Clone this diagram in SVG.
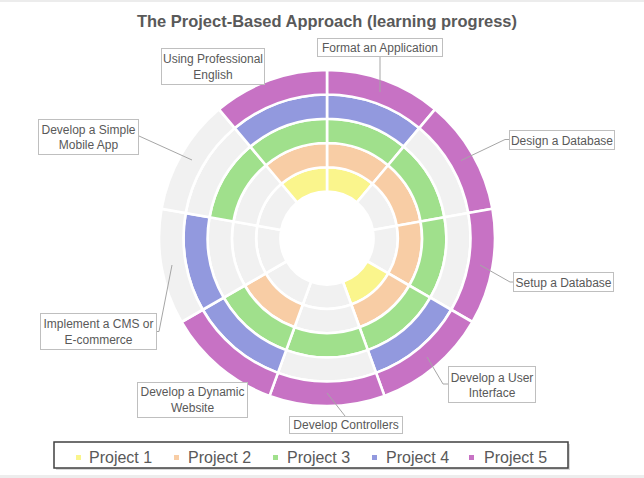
<svg xmlns="http://www.w3.org/2000/svg" width="644" height="478" viewBox="0 0 644 478">
<style>
.s{stroke:#fff;stroke-width:2.6;stroke-linejoin:miter}
.p1{fill:#FAF58C}.p2{fill:#F8CDA5}.p3{fill:#A0E08C}.p4{fill:#9299DE}.p5{fill:#C772C4}.e{fill:#F1F1F1}
.box{fill:#fff;stroke:#BFBFBF;stroke-width:1}
.lbl{font-family:"Liberation Sans",Arial,sans-serif;font-size:12px;fill:#595959;text-anchor:middle}
.lead{fill:none;stroke:#A6A6A6;stroke-width:1}
.leg{font-family:"Liberation Sans",Arial,sans-serif;font-size:16px;fill:#595959}
</style>
<rect x="0" y="0" width="644" height="478" fill="#fff"/>
<line x1="0" y1="1" x2="644" y2="1" stroke="#E6E6E6" stroke-width="1.5"/>
<rect x="0" y="475" width="644" height="3" fill="#EDEDED"/>
<text x="327" y="27" font-family="'Liberation Sans',Arial,sans-serif" font-size="17" font-weight="bold" fill="#595959" text-anchor="middle" textLength="380" lengthAdjust="spacingAndGlyphs">The Project-Based Approach (learning progress)</text>

<g id="seg-format-application" class="s">
<path class="p1" d="M327,167.2 A70.8,70.8 0 0 1 372.51,183.76 L356.89,202.38 A46.5,46.5 0 0 0 327,191.5Z"/>
<path class="p2" d="M327,143 A95,95 0 0 1 388.06,165.23 L372.51,183.76 A70.8,70.8 0 0 0 327,167.2Z"/>
<path class="p3" d="M327,118.7 A119.3,119.3 0 0 1 403.68,146.61 L388.06,165.23 A95,95 0 0 0 327,143Z"/>
<path class="p4" d="M327,94.5 A143.5,143.5 0 0 1 419.24,128.07 L403.68,146.61 A119.3,119.3 0 0 0 327,118.7Z"/>
<path class="p5" d="M327,70 A168,168 0 0 1 434.99,109.3 L419.24,128.07 A143.5,143.5 0 0 0 327,94.5Z"/>
</g>
<g id="seg-design-database" class="s">
<path class="e" d="M372.51,183.76 A70.8,70.8 0 0 1 396.72,225.71 L372.79,229.93 A46.5,46.5 0 0 0 356.89,202.38Z"/>
<path class="p2" d="M388.06,165.23 A95,95 0 0 1 420.56,221.5 L396.72,225.71 A70.8,70.8 0 0 0 372.51,183.76Z"/>
<path class="p3" d="M403.68,146.61 A119.3,119.3 0 0 1 444.49,217.28 L420.56,221.5 A95,95 0 0 0 388.06,165.23Z"/>
<path class="e" d="M419.24,128.07 A143.5,143.5 0 0 1 468.32,213.08 L444.49,217.28 A119.3,119.3 0 0 0 403.68,146.61Z"/>
<path class="p5" d="M434.99,109.3 A168,168 0 0 1 492.45,208.83 L468.32,213.08 A143.5,143.5 0 0 0 419.24,128.07Z"/>
</g>
<g id="seg-setup-database" class="s">
<path class="e" d="M396.72,225.71 A70.8,70.8 0 0 1 388.31,273.4 L367.27,261.25 A46.5,46.5 0 0 0 372.79,229.93Z"/>
<path class="p2" d="M420.56,221.5 A95,95 0 0 1 409.27,285.5 L388.31,273.4 A70.8,70.8 0 0 0 396.72,225.71Z"/>
<path class="p3" d="M444.49,217.28 A119.3,119.3 0 0 1 430.32,297.65 L409.27,285.5 A95,95 0 0 0 420.56,221.5Z"/>
<path class="e" d="M468.32,213.08 A143.5,143.5 0 0 1 451.27,309.75 L430.32,297.65 A119.3,119.3 0 0 0 444.49,217.28Z"/>
<path class="p5" d="M492.45,208.83 A168,168 0 0 1 472.49,322 L451.27,309.75 A143.5,143.5 0 0 0 468.32,213.08Z"/>
</g>
<g id="seg-user-interface" class="s">
<path class="p1" d="M388.31,273.4 A70.8,70.8 0 0 1 351.21,304.53 L342.9,281.7 A46.5,46.5 0 0 0 367.27,261.25Z"/>
<path class="p2" d="M409.27,285.5 A95,95 0 0 1 359.49,327.27 L351.21,304.53 A70.8,70.8 0 0 0 388.31,273.4Z"/>
<path class="p3" d="M430.32,297.65 A119.3,119.3 0 0 1 367.8,350.1 L359.49,327.27 A95,95 0 0 0 409.27,285.5Z"/>
<path class="p4" d="M451.27,309.75 A143.5,143.5 0 0 1 376.08,372.85 L367.8,350.1 A119.3,119.3 0 0 0 430.32,297.65Z"/>
<path class="p5" d="M472.49,322 A168,168 0 0 1 384.46,395.87 L376.08,372.85 A143.5,143.5 0 0 0 451.27,309.75Z"/>
</g>
<g id="seg-controllers" class="s">
<path class="e" d="M351.21,304.53 A70.8,70.8 0 0 1 302.79,304.53 L311.1,281.7 A46.5,46.5 0 0 0 342.9,281.7Z"/>
<path class="e" d="M359.49,327.27 A95,95 0 0 1 294.51,327.27 L302.79,304.53 A70.8,70.8 0 0 0 351.21,304.53Z"/>
<path class="p3" d="M367.8,350.1 A119.3,119.3 0 0 1 286.2,350.1 L294.51,327.27 A95,95 0 0 0 359.49,327.27Z"/>
<path class="e" d="M376.08,372.85 A143.5,143.5 0 0 1 277.92,372.85 L286.2,350.1 A119.3,119.3 0 0 0 367.8,350.1Z"/>
<path class="p5" d="M384.46,395.87 A168,168 0 0 1 269.54,395.87 L277.92,372.85 A143.5,143.5 0 0 0 376.08,372.85Z"/>
</g>
<g id="seg-dynamic-website" class="s">
<path class="e" d="M302.79,304.53 A70.8,70.8 0 0 1 265.69,273.4 L286.73,261.25 A46.5,46.5 0 0 0 311.1,281.7Z"/>
<path class="p2" d="M294.51,327.27 A95,95 0 0 1 244.73,285.5 L265.69,273.4 A70.8,70.8 0 0 0 302.79,304.53Z"/>
<path class="p3" d="M286.2,350.1 A119.3,119.3 0 0 1 223.68,297.65 L244.73,285.5 A95,95 0 0 0 294.51,327.27Z"/>
<path class="p4" d="M277.92,372.85 A143.5,143.5 0 0 1 202.73,309.75 L223.68,297.65 A119.3,119.3 0 0 0 286.2,350.1Z"/>
<path class="p5" d="M269.54,395.87 A168,168 0 0 1 181.51,322 L202.73,309.75 A143.5,143.5 0 0 0 277.92,372.85Z"/>
</g>
<g id="seg-cms" class="s">
<path class="e" d="M265.69,273.4 A70.8,70.8 0 0 1 257.28,225.71 L281.21,229.93 A46.5,46.5 0 0 0 286.73,261.25Z"/>
<path class="e" d="M244.73,285.5 A95,95 0 0 1 233.44,221.5 L257.28,225.71 A70.8,70.8 0 0 0 265.69,273.4Z"/>
<path class="e" d="M223.68,297.65 A119.3,119.3 0 0 1 209.51,217.28 L233.44,221.5 A95,95 0 0 0 244.73,285.5Z"/>
<path class="p4" d="M202.73,309.75 A143.5,143.5 0 0 1 185.68,213.08 L209.51,217.28 A119.3,119.3 0 0 0 223.68,297.65Z"/>
<path class="e" d="M181.51,322 A168,168 0 0 1 161.55,208.83 L185.68,213.08 A143.5,143.5 0 0 0 202.73,309.75Z"/>
</g>
<g id="seg-mobile-app" class="s">
<path class="e" d="M257.28,225.71 A70.8,70.8 0 0 1 281.49,183.76 L297.11,202.38 A46.5,46.5 0 0 0 281.21,229.93Z"/>
<path class="e" d="M233.44,221.5 A95,95 0 0 1 265.94,165.23 L281.49,183.76 A70.8,70.8 0 0 0 257.28,225.71Z"/>
<path class="p3" d="M209.51,217.28 A119.3,119.3 0 0 1 250.32,146.61 L265.94,165.23 A95,95 0 0 0 233.44,221.5Z"/>
<path class="e" d="M185.68,213.08 A143.5,143.5 0 0 1 234.76,128.07 L250.32,146.61 A119.3,119.3 0 0 0 209.51,217.28Z"/>
<path class="e" d="M161.55,208.83 A168,168 0 0 1 219.01,109.3 L234.76,128.07 A143.5,143.5 0 0 0 185.68,213.08Z"/>
</g>
<g id="seg-professional-english" class="s">
<path class="p1" d="M281.49,183.76 A70.8,70.8 0 0 1 327,167.2 L327,191.5 A46.5,46.5 0 0 0 297.11,202.38Z"/>
<path class="p2" d="M265.94,165.23 A95,95 0 0 1 327,143 L327,167.2 A70.8,70.8 0 0 0 281.49,183.76Z"/>
<path class="p3" d="M250.32,146.61 A119.3,119.3 0 0 1 327,118.7 L327,143 A95,95 0 0 0 265.94,165.23Z"/>
<path class="p4" d="M234.76,128.07 A143.5,143.5 0 0 1 327,94.5 L327,118.7 A119.3,119.3 0 0 0 250.32,146.61Z"/>
<path class="p5" d="M219.01,109.3 A168,168 0 0 1 327,70 L327,94.5 A143.5,143.5 0 0 0 234.76,128.07Z"/>
</g>

<g id="connectors">
<polyline class="lead" points="380,56 380,92"/>
<polyline class="lead" points="509,139.5 505,139.5 461,160.5"/>
<polyline class="lead" points="513,282 510,282 480,265"/>
<polyline class="lead" points="448,384 443,384 427,357"/>
<polyline class="lead" points="345,416 327,393"/>
<polyline class="lead" points="157,331.5 159,331.5 172,265"/>
<polyline class="lead" points="139,136 192,160"/>
</g>

<g id="label-format-application">
<rect class="box" x="317.5" y="38.5" width="125" height="18"/>
<text class="lbl" x="380" y="51.5">Format an Application</text>
</g>
<g id="label-professional-english">
<rect class="box" x="161.5" y="48.5" width="103" height="36"/>
<text class="lbl" x="213" y="63">Using Professional</text>
<text class="lbl" x="213" y="79">English</text>
</g>
<g id="label-mobile-app">
<rect class="box" x="38.5" y="119.5" width="100" height="35"/>
<text class="lbl" x="88.5" y="133.5">Develop a Simple</text>
<text class="lbl" x="88.5" y="149">Mobile App</text>
</g>
<g id="label-design-database">
<rect class="box" x="509.5" y="130.5" width="105" height="19"/>
<text class="lbl" x="562" y="144.5">Design a Database</text>
</g>
<g id="label-setup-database">
<rect class="box" x="513.5" y="272.5" width="100" height="19"/>
<text class="lbl" x="563.5" y="286.5">Setup a Database</text>
</g>
<g id="label-user-interface">
<rect class="box" x="448.5" y="366.5" width="87" height="36"/>
<text class="lbl" x="492" y="381.5">Develop a User</text>
<text class="lbl" x="492" y="397">Interface</text>
</g>
<g id="label-controllers">
<rect class="box" x="289.5" y="416.5" width="113" height="17"/>
<text class="lbl" x="346" y="429">Develop Controllers</text>
</g>
<g id="label-dynamic-website">
<rect class="box" x="137.5" y="382.5" width="110" height="35"/>
<text class="lbl" x="192.5" y="396">Develop a Dynamic</text>
<text class="lbl" x="192.5" y="412">Website</text>
</g>
<g id="label-cms">
<rect class="box" x="40.5" y="313.5" width="116" height="36"/>
<text class="lbl" x="98.5" y="327.5">Implement a CMS or</text>
<text class="lbl" x="98.5" y="344">E-commerce</text>
</g>

<g id="legend">
<rect x="56" y="444" width="514" height="26" fill="#BFBFBF" opacity="0.6"/>
<rect x="54" y="442" width="514" height="26" fill="#fff" stroke="#404040" stroke-width="1.5"/>
<rect class="p1" x="76" y="455" width="5" height="5"/>
<text class="leg" x="89" y="462.5">Project 1</text>
<rect class="p2" x="174" y="455" width="5" height="5"/>
<text class="leg" x="188" y="462.5">Project 2</text>
<rect class="p3" x="273" y="455" width="5" height="5"/>
<text class="leg" x="287" y="462.5">Project 3</text>
<rect class="p4" x="372" y="455" width="5" height="5"/>
<text class="leg" x="386" y="462.5">Project 4</text>
<rect class="p5" x="469" y="455" width="5" height="5"/>
<text class="leg" x="484" y="462.5">Project 5</text>
</g>
</svg>
